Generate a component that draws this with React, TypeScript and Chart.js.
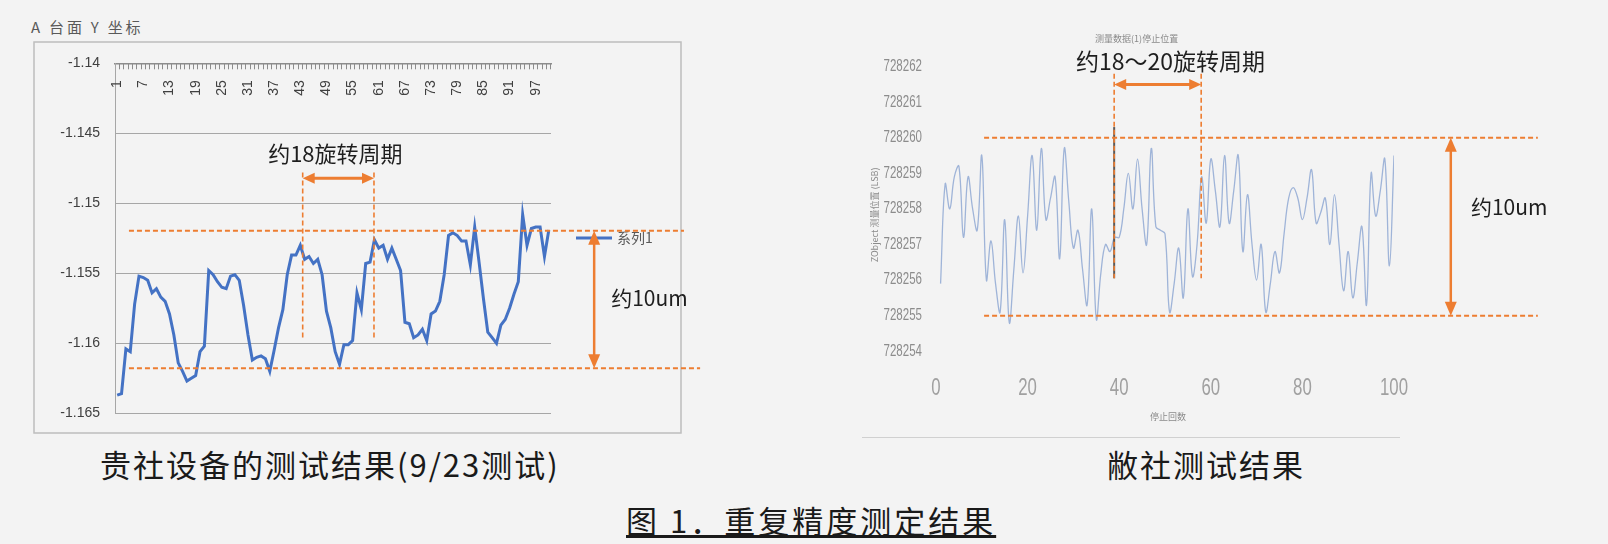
import React, { useEffect, useRef } from "react";
import { Chart, registerables } from "chart.js";

Chart.register(...registerables);

const CJK = '"Noto Sans CJK SC", "Noto Sans", sans-serif';
const SANS = '"Liberation Sans", "DejaVu Sans", sans-serif';
const ORANGE = "#ed7d31";

// ---------- Left chart: A 台面 Y 坐标 (customer equipment, 9/23) ----------
const A_CATEGORIES: string[] = Array.from({ length: 100 }, (_, i) => String(i + 1));
const A_Y_VALUES: number[] = [
  -1.1637, -1.1636, -1.1604, -1.1606, -1.1572, -1.1552, -1.1553, -1.1555, -1.1564, -1.1561,
  -1.1567, -1.157, -1.1579, -1.1594, -1.1614, -1.162, -1.1627, -1.1625, -1.1623, -1.1606,
  -1.1602, -1.1548, -1.1551, -1.1556, -1.156, -1.1561, -1.1552, -1.1551, -1.1555, -1.1573,
  -1.1594, -1.1612, -1.161, -1.1609, -1.1611, -1.162, -1.1605, -1.1589, -1.1576, -1.1551,
  -1.1537, -1.1537, -1.153, -1.154, -1.1538, -1.1543, -1.154, -1.1551, -1.1577, -1.1589,
  -1.1606, -1.1615, -1.1601, -1.1601, -1.1598, -1.1564, -1.1576, -1.1543, -1.1542, -1.1526,
  -1.1532, -1.153, -1.154, -1.1532, -1.154, -1.1548, -1.1585, -1.1586, -1.1596, -1.1594,
  -1.159, -1.1598, -1.1579, -1.1577, -1.157, -1.1551, -1.1523, -1.1521, -1.1523, -1.1527,
  -1.1527, -1.1544, -1.1517, -1.1542, -1.1568, -1.1592, -1.1596, -1.16, -1.1587, -1.1583,
  -1.1575, -1.1565, -1.1556, -1.1508, -1.153, -1.1518, -1.1517, -1.1517, -1.1538, -1.1519,
];
const A_Y_RANGE = [-1.165, -1.14];
const A_Y_STEP = 0.005;
const A_LABEL_EVERY = 6;
// Annotation anchors: values on the y scale, positions as category indexes
const A_BAND = [-1.15196, -1.16179];
const A_BAND_SPAN = [2.7, 130.0, 133.7];
const A_PERIOD = [42.55, 58.9];
const A_PERIOD_SPAN = [-1.1478, -1.1598];
const A_PERIOD_ARROW_Y = -1.14821;
const A_PERIOD_TEXT_Y = -1.14643;
const A_RANGE_ARROW_X = 109.4;
const A_RANGE_TEXT = [113.3, -1.15677];
const A_LEGEND_Y = -1.15248;

// ---------- Right chart: our own measurement ----------
const B_VALUES: number[] = [
  728255.9, 728258.7, 728258.0, 728258.9, 728259.2, 728257.2, 728258.9, 728258.0, 728257.4, 728259.5,
  728256.0, 728257.1, 728255.9, 728255.1, 728257.7, 728254.8, 728256.3, 728257.8, 728256.2, 728257.8,
  728259.5, 728257.4, 728259.7, 728257.7, 728258.3, 728258.9, 728256.6, 728259.7, 728258.2, 728256.9,
  728257.4, 728256.3, 728255.3, 728258.0, 728254.9, 728256.2, 728257.0, 728256.8, 728257.2, 728257.2,
  728258.0, 728259.0, 728258.0, 728259.4, 728258.0, 728257.0, 728259.7, 728257.5, 728257.4, 728257.3,
  728255.1, 728255.9, 728256.9, 728255.5, 728258.0, 728256.1, 728257.0, 728258.9, 728257.6, 728259.4,
  728258.5, 728257.5, 728259.5, 728257.6, 728258.5, 728259.5, 728256.8, 728258.4, 728257.0, 728256.0,
  728257.0, 728255.1, 728255.9, 728256.8, 728256.2, 728257.3, 728258.3, 728258.6, 728258.3, 728257.7,
  728258.3, 728259.1, 728257.6, 728257.9, 728258.3, 728257.0, 728258.4, 728257.0, 728255.7, 728256.8,
  728255.5, 728256.5, 728257.5, 728255.3, 728259.0, 728257.8, 728258.5, 728259.4, 728256.4, 728259.5,
];
const B_X: number[] = B_VALUES.map((_, i) => i + 1);
const B_Y_RANGE = [728254, 728262];
const B_X_RANGE = [0, 100];
const B_X_STEP = 20;
const B_BAND = [728260, 728255];
const B_BAND_SPAN = [10.5, 131.4];
const B_PERIOD = [38.9, 57.9];
const B_PERIOD_SPAN = [728261.8, 728256.05];
const B_STOP_MARK = [38.9, 728260.3, 728256.05];
const B_PERIOD_ARROW_Y = 728261.5;
const B_PERIOD_TEXT = [51.2, 728262.15];
const B_NOTE_TEXT = [43.8, 728262.8];
const B_RANGE_ARROW_X = 112.4;
const B_RANGE_TEXT = [116.8, 728258.05];

function dashed(ctx: CanvasRenderingContext2D, x1: number, y1: number, x2: number, y2: number, width = 2) {
  ctx.save();
  ctx.strokeStyle = ORANGE;
  ctx.lineWidth = width;
  ctx.setLineDash([5, 3]);
  ctx.beginPath();
  ctx.moveTo(x1, y1);
  ctx.lineTo(x2, y2);
  ctx.stroke();
  ctx.restore();
}

function doubleArrow(ctx: CanvasRenderingContext2D, x1: number, y1: number, x2: number, y2: number, width = 3, head = 12, half = 5.5) {
  const a = Math.atan2(y2 - y1, x2 - x1);
  const c = Math.cos(a), s = Math.sin(a);
  ctx.save();
  ctx.strokeStyle = ORANGE;
  ctx.fillStyle = ORANGE;
  ctx.lineWidth = width;
  ctx.beginPath();
  ctx.moveTo(x1 + c * head * 0.8, y1 + s * head * 0.8);
  ctx.lineTo(x2 - c * head * 0.8, y2 - s * head * 0.8);
  ctx.stroke();
  const tri = (x: number, y: number, dc: number, ds: number) => {
    ctx.beginPath();
    ctx.moveTo(x, y);
    ctx.lineTo(x - dc * head - ds * half, y - ds * head + dc * half);
    ctx.lineTo(x - dc * head + ds * half, y - ds * head - dc * half);
    ctx.closePath();
    ctx.fill();
  };
  tri(x2, y2, c, s);
  tri(x1, y1, -c, -s);
  ctx.restore();
}

// narrow tick text: normal glyphs squeezed horizontally
function narrowText(ctx: CanvasRenderingContext2D, text: string, x: number, y: number, squeeze: number, align: CanvasTextAlign) {
  ctx.save();
  ctx.translate(x, y);
  ctx.scale(squeeze, 1);
  ctx.textAlign = align;
  ctx.textBaseline = "middle";
  ctx.fillText(text, 0, 0);
  ctx.restore();
}

const leftDecor = {
  id: "leftDecor",
  beforeDraw(chart: any) {
    const ctx = chart.ctx as CanvasRenderingContext2D;
    ctx.save();
    ctx.strokeStyle = "#bdbdbd";
    ctx.lineWidth = 1.5;
    ctx.strokeRect(34, 42, 647, 391);
    ctx.restore();
  },
  afterDraw(chart: any) {
    const ctx = chart.ctx as CanvasRenderingContext2D;
    const xs = chart.scales.x;
    const ys = chart.scales.y;
    const area = chart.chartArea;

    // category labels, rotated, hanging below the top axis
    ctx.save();
    ctx.font = `14px ${SANS}`;
    ctx.fillStyle = "#404040";
    A_CATEGORIES.forEach((lab, i) => {
      if (i % A_LABEL_EVERY) return;
      ctx.save();
      ctx.translate(xs.getPixelForValue(i), area.top + 17);
      ctx.rotate(-Math.PI / 2);
      ctx.textAlign = "right";
      ctx.textBaseline = "middle";
      ctx.fillText(lab, 0, 0);
      ctx.restore();
    });
    ctx.restore();

    // legend
    const ly = ys.getPixelForValue(A_LEGEND_Y);
    ctx.save();
    ctx.strokeStyle = "#4472c4";
    ctx.lineWidth = 3;
    ctx.beginPath();
    ctx.moveTo(area.right + 25, ly);
    ctx.lineTo(area.right + 61, ly);
    ctx.stroke();
    ctx.font = `14px ${CJK}`;
    ctx.fillStyle = "#595959";
    ctx.textBaseline = "middle";
    ctx.fillText("系列1", area.right + 66, ly);
    ctx.restore();

    // band of about 10 um
    const yTop = ys.getPixelForValue(A_BAND[0]);
    const yBot = ys.getPixelForValue(A_BAND[1]);
    dashed(ctx, xs.getPixelForValue(A_BAND_SPAN[0]), yTop, xs.getPixelForValue(A_BAND_SPAN[1]), yTop);
    dashed(ctx, xs.getPixelForValue(A_BAND_SPAN[0]), yBot, xs.getPixelForValue(A_BAND_SPAN[2]), yBot);

    // one rotation period
    const p1 = xs.getPixelForValue(A_PERIOD[0]);
    const p2 = xs.getPixelForValue(A_PERIOD[1]);
    const v1 = ys.getPixelForValue(A_PERIOD_SPAN[0]);
    const v2 = ys.getPixelForValue(A_PERIOD_SPAN[1]);
    dashed(ctx, p1, v1, p1, v2, 1.6);
    dashed(ctx, p2, v1, p2, v2, 1.6);
    const ay = ys.getPixelForValue(A_PERIOD_ARROW_Y);
    doubleArrow(ctx, p1, ay, p2, ay, 3, 12, 5.5);

    ctx.save();
    ctx.fillStyle = "#1e1e1e";
    ctx.font = `22px ${CJK}`;
    ctx.textAlign = "center";
    ctx.textBaseline = "middle";
    ctx.fillText("约18旋转周期", (p1 + p2) / 2 - 3, ys.getPixelForValue(A_PERIOD_TEXT_Y));
    ctx.restore();

    const ax = xs.getPixelForValue(A_RANGE_ARROW_X);
    doubleArrow(ctx, ax, yTop, ax, yBot, 2.5, 14, 6);
    ctx.save();
    ctx.fillStyle = "#1e1e1e";
    ctx.font = `21px ${CJK}`;
    ctx.textBaseline = "middle";
    ctx.fillText("约10um", xs.getPixelForValue(A_RANGE_TEXT[0]), ys.getPixelForValue(A_RANGE_TEXT[1]));
    ctx.restore();
  },
};

const rightDecor = {
  id: "rightDecor",
  afterDraw(chart: any) {
    const ctx = chart.ctx as CanvasRenderingContext2D;
    const xs = chart.scales.x;
    const ys = chart.scales.y;
    const area = chart.chartArea;

    // tick labels from the scales' own ticks
    ctx.save();
    ctx.fillStyle = "#8c8c8c";
    ctx.font = `16px ${SANS}`;
    ys.ticks.forEach((t: any) => {
      narrowText(ctx, String(t.value), area.left - 14, ys.getPixelForValue(t.value), 0.72, "right");
    });
    ctx.fillStyle = "#a0a0a0";
    ctx.font = `24px ${SANS}`;
    xs.ticks.forEach((t: any) => {
      narrowText(ctx, String(t.value), xs.getPixelForValue(t.value), area.bottom + 37, 0.7, "center");
    });
    ctx.restore();

    // small axis titles
    ctx.save();
    ctx.fillStyle = "#8a8a8a";
    ctx.font = `9px ${CJK}`;
    ctx.textAlign = "center";
    ctx.textBaseline = "middle";
    ctx.fillText("停止回数", (area.left + area.right) / 2 + 3, 417);
    ctx.save();
    ctx.translate(area.left - 61, (area.top + area.bottom) / 2 + 6);
    ctx.rotate(-Math.PI / 2);
    ctx.fillText("ZObject 测量位置 (LSB)", 0, 0);
    ctx.restore();
    ctx.fillText("测量数据(1)停止位置", xs.getPixelForValue(B_NOTE_TEXT[0]), ys.getPixelForValue(B_NOTE_TEXT[1]));
    ctx.restore();

    // stop position marker
    const sx = xs.getPixelForValue(B_STOP_MARK[0]);
    ctx.save();
    ctx.strokeStyle = "#5a5a5a";
    ctx.lineWidth = 2;
    ctx.beginPath();
    ctx.moveTo(sx, ys.getPixelForValue(B_STOP_MARK[1]));
    ctx.lineTo(sx, ys.getPixelForValue(B_STOP_MARK[2]));
    ctx.stroke();
    ctx.restore();

    const yTop = ys.getPixelForValue(B_BAND[0]);
    const yBot = ys.getPixelForValue(B_BAND[1]);
    const bx1 = xs.getPixelForValue(B_BAND_SPAN[0]);
    const bx2 = xs.getPixelForValue(B_BAND_SPAN[1]);
    dashed(ctx, bx1, yTop, bx2, yTop);
    dashed(ctx, bx1, yBot, bx2, yBot);

    const p1 = xs.getPixelForValue(B_PERIOD[0]);
    const p2 = xs.getPixelForValue(B_PERIOD[1]);
    const v1 = ys.getPixelForValue(B_PERIOD_SPAN[0]);
    const v2 = ys.getPixelForValue(B_PERIOD_SPAN[1]);
    dashed(ctx, p1, v1, p1, v2, 1.6);
    dashed(ctx, p2, v1, p2, v2, 1.6);
    const ay = ys.getPixelForValue(B_PERIOD_ARROW_Y);
    doubleArrow(ctx, p1, ay, p2, ay, 3, 12, 5.5);

    ctx.save();
    ctx.fillStyle = "#1e1e1e";
    ctx.font = `23px ${CJK}`;
    ctx.textAlign = "center";
    ctx.textBaseline = "middle";
    ctx.fillText("约18～20旋转周期", xs.getPixelForValue(B_PERIOD_TEXT[0]), ys.getPixelForValue(B_PERIOD_TEXT[1]));
    ctx.restore();

    const ax = xs.getPixelForValue(B_RANGE_ARROW_X);
    doubleArrow(ctx, ax, yTop, ax, yBot, 2.5, 14, 6);
    ctx.save();
    ctx.fillStyle = "#1e1e1e";
    ctx.font = `21px ${CJK}`;
    ctx.textBaseline = "middle";
    ctx.fillText("约10um", xs.getPixelForValue(B_RANGE_TEXT[0]), ys.getPixelForValue(B_RANGE_TEXT[1]));
    ctx.restore();
  },
};

function fmt(v: number) {
  return String(Number(Number(v).toFixed(3)));
}

export default function App() {
  const leftRef = useRef<HTMLCanvasElement>(null);
  const rightRef = useRef<HTMLCanvasElement>(null);

  useEffect(() => {
    const left = new Chart(leftRef.current as HTMLCanvasElement, {
      type: "line",
      data: {
        labels: A_CATEGORIES,
        datasets: [
          {
            label: "系列1",
            data: A_Y_VALUES,
            borderColor: "#4472c4",
            borderWidth: 3,
            pointRadius: 0,
            tension: 0,
            fill: false,
          },
        ],
      },
      options: {
        animation: false,
        responsive: false,
        events: [],
        layout: { padding: { left: 0, right: 253, top: 63.3, bottom: 26.7 } },
        plugins: { legend: { display: false }, tooltip: { enabled: false }, title: { display: false } },
        scales: {
          x: {
            position: "top",
            offset: true,
            ticks: { display: false },
            grid: { offset: true, drawOnChartArea: false, drawTicks: true, tickLength: -6, color: "#8c8c8c", lineWidth: 1 },
            border: { display: true, color: "#8c8c8c", width: 1.5 },
            afterFit: (s: any) => {
              s.height = 0;
            },
          },
          y: {
            min: A_Y_RANGE[0],
            max: A_Y_RANGE[1],
            ticks: {
              stepSize: A_Y_STEP,
              padding: 15,
              color: "#404040",
              font: { family: SANS, size: 14 },
              callback: (v: any) => fmt(v),
            },
            grid: { color: "#a6a6a6", drawTicks: false, lineWidth: 1 },
            border: { display: true, color: "#a6a6a6" },
            afterFit: (s: any) => {
              s.width = 115;
            },
          },
        },
      } as any,
      plugins: [leftDecor],
    });

    const right = new Chart(rightRef.current as HTMLCanvasElement, {
      type: "line",
      data: {
        datasets: [
          {
            label: "ZObject",
            data: B_X.map((x, i) => ({ x, y: B_VALUES[i] })),
            borderColor: "#9fb4d8",
            borderWidth: 1.3,
            pointRadius: 0,
            tension: 0.4,
            fill: false,
          },
        ],
      },
      options: {
        animation: false,
        responsive: false,
        events: [],
        layout: { padding: { left: 0, right: 214, top: 66.6, bottom: 0 } },
        plugins: { legend: { display: false }, tooltip: { enabled: false }, title: { display: false } },
        scales: {
          x: {
            type: "linear",
            min: B_X_RANGE[0],
            max: B_X_RANGE[1],
            ticks: { display: false, stepSize: B_X_STEP },
            grid: { display: false, drawTicks: false },
            border: { display: false },
            afterFit: (s: any) => {
              s.height = 88.8;
            },
          },
          y: {
            min: B_Y_RANGE[0],
            max: B_Y_RANGE[1],
            ticks: { display: false, stepSize: 1 },
            grid: { display: false, drawTicks: false },
            border: { display: false },
            afterFit: (s: any) => {
              s.width = 132;
            },
          },
        },
      } as any,
      plugins: [rightDecor],
    });

    return () => {
      left.destroy();
      right.destroy();
    };
  }, []);

  const caption: React.CSSProperties = {
    position: "absolute",
    fontFamily: CJK,
    fontSize: 31,
    lineHeight: "31px",
    letterSpacing: 2,
    color: "#1a1a1a",
    whiteSpace: "nowrap",
  };

  return (
    <div
      style={{
        position: "absolute",
        left: 0,
        top: 0,
        width: 1608,
        height: 544,
        background: "#f3f3f3",
        overflow: "hidden",
      }}
    >
      <div
        style={{
          position: "absolute",
          left: 31,
          top: 19,
          fontFamily: CJK,
          fontSize: 15,
          lineHeight: "16px",
          letterSpacing: 2.8,
          color: "#595959",
          whiteSpace: "nowrap",
        }}
      >
        A 台面 Y 坐标
      </div>
      <canvas ref={leftRef} width={804} height={440} style={{ position: "absolute", left: 0, top: 0 }} />
      <canvas ref={rightRef} width={804} height={440} style={{ position: "absolute", left: 804, top: 0 }} />
      <div style={{ position: "absolute", left: 862, top: 437, width: 538, height: 1, background: "#d0d0d0" }} />
      <div style={{ ...caption, left: 100, top: 448 }}>贵社设备的测试结果(9/23测试)</div>
      <div style={{ ...caption, left: 1107, top: 448 }}>敝社测试结果</div>
      <div style={{ ...caption, left: 626, top: 504, letterSpacing: 3, textDecoration: "underline" }}>图 1．重复精度测定结果</div>
    </div>
  );
}
